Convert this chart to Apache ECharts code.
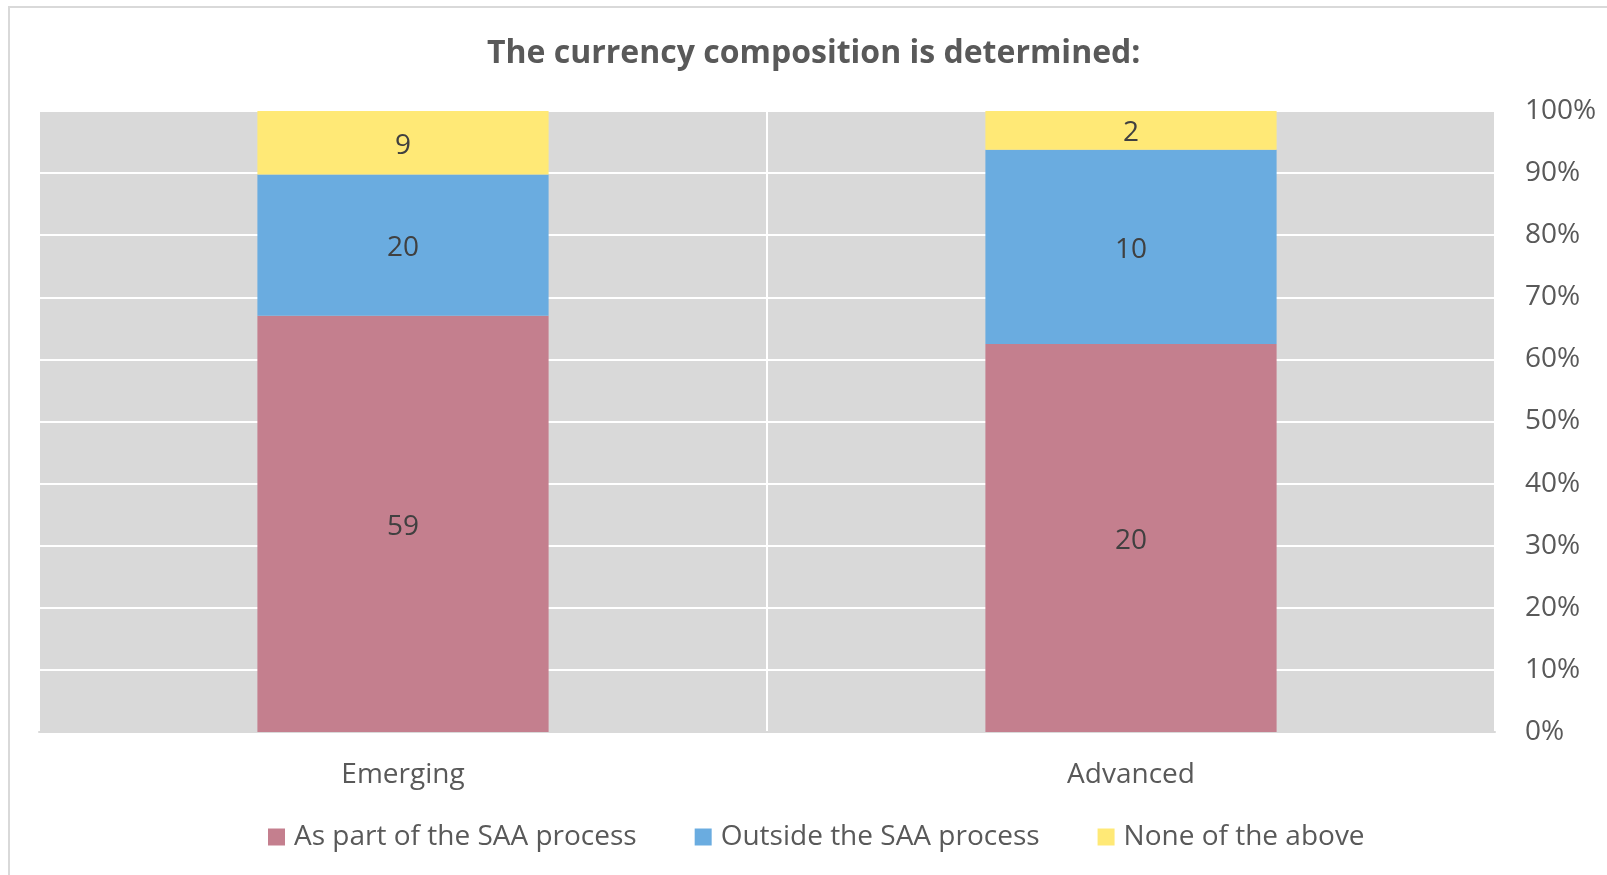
<!DOCTYPE html>
<html>
<head>
<meta charset="utf-8">
<script src="https://cdn.jsdelivr.net/npm/echarts@6/dist/echarts.min.js"></script>
<style>
  html, body { margin: 0; padding: 0; background: #fff; }
  #chart { width: 1607px; height: 875px; }
</style>
</head>
<body>
<div id="chart"></div>
<script>
// categories and counts per answer
var categories = ['Emerging', 'Advanced'];
var seriesNames = ['As part of the SAA process', 'Outside the SAA process', 'None of the above'];
var saaPart = [59, 20];
var outsideSaa = [20, 10];
var noneAbove = [9, 2];
var yTicks = [0, 10, 20, 30, 40, 50, 60, 70, 80, 90, 100];
var colors = ['#c47f8e', '#6aace0', '#ffe976'];

var counts = [saaPart, outsideSaa, noneAbove];
var totals = categories.map(function (c, i) {
    return saaPart[i] + outsideSaa[i] + noneAbove[i];
});

var font = '"Open Sans", "Noto Sans", sans-serif';

var series = counts.map(function (arr, k) {
    return {
        name: seriesNames[k],
        type: 'bar',
        stack: 'total',
        barWidth: '40%',
        itemStyle: { color: colors[k] },
        label: {
            show: true,
            position: 'inside',
            offset: [0, 3],
            fontFamily: font,
            fontSize: 28,
            color: '#404040',
            formatter: function (p) { return arr[p.dataIndex]; }
        },
        data: arr.map(function (v, i) { return v / totals[i] * 100; })
    };
});

var chart = echarts.init(document.getElementById('chart'));
chart.setOption({
    animation: false,
    backgroundColor: '#fff',
    title: {
        text: 'The currency composition is determined:',
        left: 482,
        top: 33,
        textStyle: { fontFamily: font, fontSize: 32, fontWeight: 'bold', color: '#595959' }
    },
    graphic: [{
        type: 'rect',
        shape: { x: 9, y: 7, width: 1620, height: 900 },
        style: { fill: 'none', stroke: '#d9d9d9', lineWidth: 2 },
        silent: true
    }],
    legend: {
        bottom: 19,
        left: 263,
        itemWidth: 17,
        itemHeight: 17,
        itemGap: 58,
        icon: 'rect',
        textStyle: { fontFamily: font, fontSize: 28, color: '#595959', padding: [0, 0, 0, 4] },
        data: seriesNames
    },
    grid: { left: 39, right: 112, top: 111, bottom: 143, backgroundColor: '#d9d9d9', show: true, borderWidth: 0 },
    xAxis: {
        type: 'category',
        data: categories,
        axisLine: { show: true, lineStyle: { color: '#d9d9d9', width: 2 } },
        axisTick: { show: false },
        splitLine: { show: true, lineStyle: { color: '#fff', width: 2 } },
        axisLabel: { fontFamily: font, fontSize: 28, color: '#595959', margin: 29 }
    },
    yAxis: {
        type: 'value',
        position: 'right',
        min: 0,
        max: 100,
        interval: 10,
        axisLine: { show: false },
        axisTick: { show: false },
        splitLine: { lineStyle: { color: '#fff', width: 2 } },
        axisLabel: {
            fontFamily: font, fontSize: 28, color: '#595959', margin: 30,
            padding: [5, 0, 0, 0],
            formatter: function (v) { return yTicks.indexOf(v) >= 0 ? v + '%' : ''; }
        }
    },
    series: series
});
</script>
</body>
</html>
